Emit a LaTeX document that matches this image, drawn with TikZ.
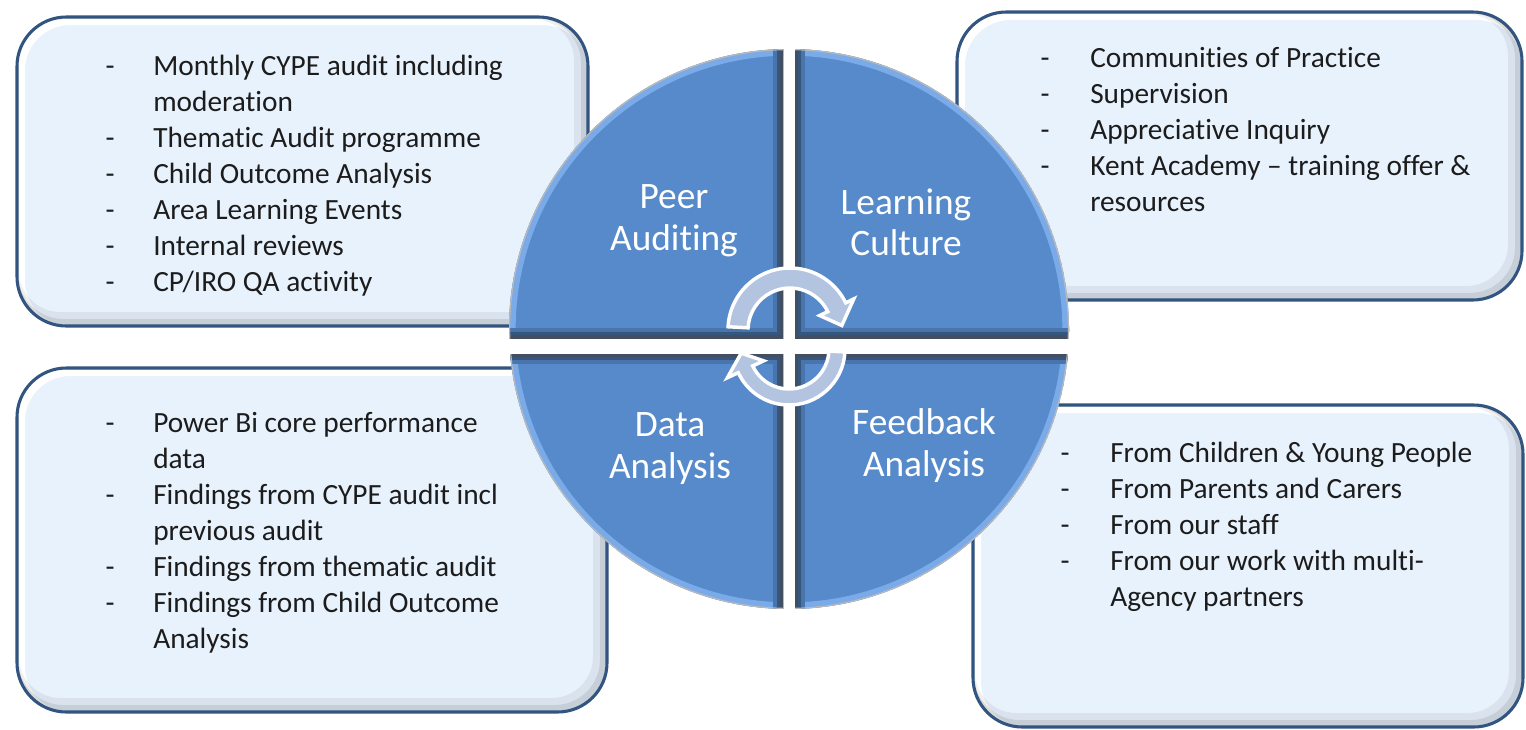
\documentclass[tikz,border=0pt]{standalone}
\usepackage{fontspec}
\setmainfont{Carlito}[Ligatures=NoCommon]
\usetikzlibrary{calc}
\definecolor{boxfill}{RGB}{232,242,252}
\definecolor{boxline}{RGB}{50,84,128}
\definecolor{qblue}{RGB}{86,138,202}
\definecolor{qlight}{RGB}{122,170,232}
\definecolor{qdark}{RGB}{66,78,98}
\definecolor{arrowfill}{RGB}{178,196,224}
\definecolor{txt}{RGB}{28,28,28}
\tikzset{
  bodytxt/.style={font=\fontsize{22}{27}\selectfont, text=txt, inner sep=0pt, anchor=base west},
  dashmark/.style={font=\fontsize{22}{27}\selectfont, text=txt, inner sep=0pt, anchor=base},
  qlabel/.style={font=\fontsize{28}{34}\selectfont, text=white, inner sep=0pt, anchor=base},
  boxedge/.style={draw=boxline, line width=2.3pt, rounded corners=37pt},
  cyc/.style={fill=arrowfill, draw=white, line width=2.6pt, line join=miter},
}
\newcommand\softbox[4]{%
  \begin{scope}
    \clip[rounded corners=37pt] (#1,#2) rectangle (#3,#4);
    \fill[boxfill] (#1,#2) rectangle (#3,#4);
    \draw[white, line width=6pt, rounded corners=37pt] (#1+4,#2+4) rectangle (#3+4,#4+4);
    \draw[black, opacity=0.06, line width=12pt, rounded corners=37pt] (#1-6,#2-6) rectangle (#3-6,#4-6);
    \draw[black, opacity=0.09, line width=6pt, rounded corners=37pt] (#1-3,#2-3) rectangle (#3-3,#4-3);
  \end{scope}
  \draw[boxedge] (#1,#2) rectangle (#3,#4);}
\newcommand\quadrant[5]{%
  \begin{scope}
    \clip (#1,#2) rectangle (#3,#4);
    \clip (789,329) circle[radius=280];
    \fill[qblue] (789,329) circle[radius=280];
    \draw[qlight, line width=10pt] (789,329) circle[radius=280];
    \draw[qblue!85!black, line width=15pt] #5;
    \draw[qblue!62!black, line width=9pt] #5;
    \draw[qdark, line width=4pt] #5;
    \draw[gray!55, line width=1.8pt] (789,329) circle[radius=280];
  \end{scope}}
\begin{document}
\begin{tikzpicture}[x=0.75pt,y=-0.75pt]
\fill[white] (0,0) rectangle (1526,729);
\useasboundingbox (0,0) rectangle (1526,729);

% boxes
\softbox{17}{17}{588}{326}
\softbox{957}{12}{1522}{300}
\softbox{17}{368}{607}{712}
\softbox{973}{405}{1523}{727}

% quadrants
\quadrant{0}{0}{783}{338}{(783,0) -- (783,338) -- (0,338)}
\quadrant{795}{0}{1526}{338}{(795,0) -- (795,338) -- (1526,338)}
\quadrant{0}{354}{783}{729}{(0,354) -- (783,354) -- (783,729)}
\quadrant{795}{354}{1526}{729}{(1526,354) -- (795,354) -- (795,729)}

% quadrant labels
\node[qlabel] (peer) at (674,208) {Peer};
\node[qlabel] (auditing) at (674,250) {Auditing};
\node[qlabel] (learning) at (906,214) {Learning};
\node[qlabel] (culture) at (906,255) {Culture};
\node[qlabel] (data) at (670,436) {Data};
\node[qlabel] (analysis1) at (670,478) {Analysis};
\node[qlabel] (feedback) at (924,434) {Feedback};
\node[qlabel] (analysis2) at (924,476) {Analysis};

% cycle arrows
\begin{scope}[shift={(790,330)}]
  \filldraw[cyc] (183:62) arc[start angle=183, end angle=334, radius=62]
    -- (334:71) -- (355:52) -- (334:33) -- (334:42)
    arc[start angle=334, end angle=183, radius=42] -- cycle;
\end{scope}
\begin{scope}[shift={(789,349)}]
  \filldraw[cyc] (3:56) arc[start angle=3, end angle=155, radius=56]
    -- (155:68) -- (175:48) -- (155:28) -- (155:40)
    arc[start angle=155, end angle=3, radius=40] -- cycle;
\end{scope}

% top-left text
\node[dashmark] (tld1) at (110,75) {-};
\node[bodytxt] (tl1) at (153,75) {Monthly CYPE audit including};
\node[bodytxt] (tl1b) at (153,111) {moderation};
\node[dashmark] (tld2) at (110,147) {-};
\node[bodytxt] (tl2) at (153,147) {Thematic Audit programme};
\node[dashmark] (tld3) at (110,183) {-};
\node[bodytxt] (tl3) at (153,183) {Child Outcome Analysis};
\node[dashmark] (tld4) at (110,219) {-};
\node[bodytxt] (tl4) at (153,219) {Area Learning Events};
\node[dashmark] (tld5) at (110,255) {-};
\node[bodytxt] (tl5) at (153,255) {Internal reviews};
\node[dashmark] (tld6) at (110,291) {-};
\node[bodytxt] (tl6) at (153,291) {CP/IRO QA activity};

% top-right text
\node[dashmark] (trd1) at (1045,67) {-};
\node[bodytxt] (tr1) at (1090,67) {Communities of Practice};
\node[dashmark] (trd2) at (1045,103) {-};
\node[bodytxt] (tr2) at (1090,103) {Supervision};
\node[dashmark] (trd3) at (1045,139) {-};
\node[bodytxt] (tr3) at (1090,139) {Appreciative Inquiry};
\node[dashmark] (trd4) at (1045,175) {-};
\node[bodytxt] (tr4) at (1090,175) {Kent Academy – training offer \&};
\node[bodytxt] (tr4b) at (1090,211) {resources};

% bottom-left text
\node[dashmark] (bld1) at (110,432) {-};
\node[bodytxt] (bl1) at (153,432) {Power Bi core performance};
\node[bodytxt] (bl1b) at (153,468) {data};
\node[dashmark] (bld2) at (110,504) {-};
\node[bodytxt] (bl2) at (153,504) {Findings from CYPE audit incl};
\node[bodytxt] (bl2b) at (153,540) {previous audit};
\node[dashmark] (bld3) at (110,576) {-};
\node[bodytxt] (bl3) at (153,576) {Findings from thematic audit};
\node[dashmark] (bld4) at (110,612) {-};
\node[bodytxt] (bl4) at (153,612) {Findings from Child Outcome};
\node[bodytxt] (bl4b) at (153,648) {Analysis};

% bottom-right text
\node[dashmark] (brd1) at (1065,462) {-};
\node[bodytxt] (br1) at (1110,462) {From Children \& Young People};
\node[dashmark] (brd2) at (1065,498) {-};
\node[bodytxt] (br2) at (1110,498) {From Parents and Carers};
\node[dashmark] (brd3) at (1065,534) {-};
\node[bodytxt] (br3) at (1110,534) {From our staff};
\node[dashmark] (brd4) at (1065,570) {-};
\node[bodytxt] (br4) at (1110,570) {From our work with multi-};
\node[bodytxt] (br4b) at (1110,606) {Agency partners};
\end{tikzpicture}
\end{document}
